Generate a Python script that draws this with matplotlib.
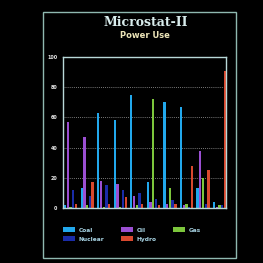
import numpy as np
import matplotlib
matplotlib.use("Agg")
import matplotlib.pyplot as plt
from matplotlib.patches import Rectangle

# Data: 10 groups, five power sources
series = ["Coal", "Oil", "Gas", "Nuclear", "Hydro"]
coal = [2, 13, 63, 58, 75, 17, 70, 67, 13, 4]
oil = [57, 47, 18, 16, 8, 4, 3, 2, 38, 1]
gas = [1, 2, 1, 1, 2, 72, 13, 3, 20, 2]
nuclear = [12, 8, 15, 12, 10, 6, 5, 1, 3, 2]
hydro = [3, 17, 3, 7, 3, 2, 3, 28, 25, 91]
yticks = [0, 20, 40, 60, 80, 100]

colors = ["#22a8ec", "#9b4fd2", "#7cc63c", "#1a2ca8", "#d8482e"]
values = [coal, oil, gas, nuclear, hydro]

fig = plt.figure(figsize=(2.63, 2.63), dpi=100)
fig.patch.set_facecolor("black")

# outer screen frame
frame = Rectangle((0.162, 0.02), 0.735, 0.935, transform=fig.transFigure,
                  fill=False, edgecolor="#8fb8b0", linewidth=1.0)
fig.add_artist(frame)

ax = fig.add_axes([0.240, 0.209, 0.620, 0.574])
ax.set_facecolor("black")

x = np.arange(len(coal))
step = 0.165
width = 0.14
bars = []
for j, (name, vals, c) in enumerate(zip(series, values, colors)):
    b = ax.bar(x + j * step, vals, width=width, color=c, label=name, align="edge")
    bars.append(b)

ax.set_xlim(-0.05, 9.8)
ax.set_ylim(0, 100)
ax.set_yticks(yticks)
ax.set_yticklabels([str(t) for t in yticks], color="#e8e8e8", fontsize=3.5,
                   fontweight="bold")
ax.set_xticks([])
ax.tick_params(axis="y", length=0, pad=4)
for t in yticks[1:-1]:
    ax.axhline(t, color="#a0a0a0", linestyle=(0, (1, 1.5)), linewidth=0.6, zorder=0)
for s in ax.spines.values():
    s.set_color("#b8d8d8")
    s.set_linewidth(1.0)

fig.text(0.553, 0.915, "Microstat-II", ha="center", va="center", color="#d8ecec",
         fontsize=9, family="DejaVu Serif", fontweight="bold")
fig.text(0.551, 0.866, "Power Use", ha="center", va="center", color="#ece4b8",
         fontsize=6, fontweight="bold")

# legend: row 1 Coal, Oil, Gas; row 2 Nuclear, Hydro (column-major order)
order = [0, 3, 1, 4, 2]
leg = fig.legend([bars[i] for i in order], [series[i] for i in order], ncol=3,
                 loc="upper left", bbox_to_anchor=(0.22, 0.155), frameon=False,
                 fontsize=4.2, handlelength=2.0, handleheight=0.8,
                 columnspacing=2.8, labelspacing=0.6, handletextpad=0.7)
for t in leg.get_texts():
    t.set_color("#a8d4e4")
    t.set_fontweight("bold")

fig.savefig("out.png", dpi=100, facecolor="black")
